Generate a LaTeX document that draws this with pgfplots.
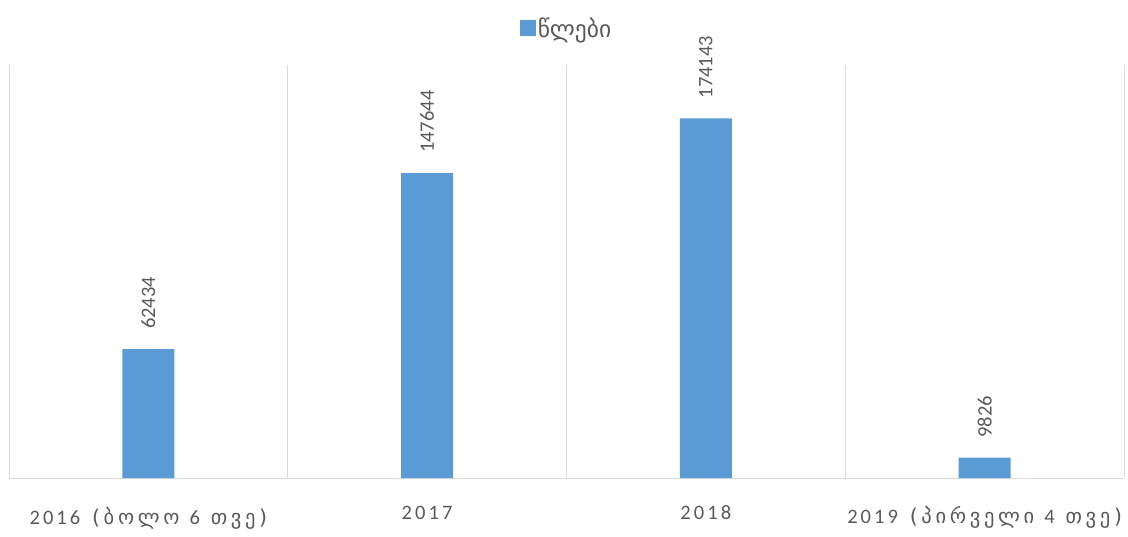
\documentclass[border=0pt]{standalone}
\usepackage{fontspec}
\setmainfont{Carlito}
\newfontfamily\geo{DejaVu Sans}
\newfontfamily\tickfont[LetterSpace=15]{Carlito}
\newfontfamily\geotick[LetterSpace=18]{DejaVu Sans}
\usepackage{pgfplots}
\pgfplotsset{compat=1.18}
\definecolor{barblue}{HTML}{5B9BD5}
\definecolor{txtgray}{HTML}{595959}
\definecolor{gridgray}{HTML}{D9D9D9}
\begin{document}
\begin{tikzpicture}
\useasboundingbox (-9pt,-58pt) rectangle (1119pt,478pt);
\begin{axis}[
  scale only axis,
  width=1115pt, height=413pt,
  xmin=-0.5, xmax=3.5,
  ymin=0, ymax=200000,
  axis x line*=bottom,
  axis y line=none,
  x axis line style={gridgray, line width=1pt, -},
  xtick={0,1,2,3},
  xticklabels={
    {\raisebox{-5pt}{\tickfont 2016\hspace{4pt} \geotick(ბოლო \tickfont 6\hspace{3pt} \geotick თვე)}},
    {\tickfont 2017},
    {\tickfont 2018},
    {\raisebox{-4pt}{\tickfont 2019\hspace{4pt} \geotick(პირველი \tickfont 4\hspace{3pt} \geotick თვე)}}},
  xticklabel style={anchor=base, yshift=-41pt, text=txtgray, font=\fontsize{20.5}{24}\selectfont},
  major tick length=0pt,
  minor xtick={-0.5,0.5,1.5,2.5,3.5},
  minor tick length=0pt,
  xminorgrids=true,
  minor grid style={gridgray, line width=1pt},
  ytick=\empty,
  ybar, bar width=52pt, bar shift=0pt,
  point meta=explicit symbolic,
  nodes near coords,
  every node near coord/.append style={rotate=90, anchor=west, inner xsep=20pt, text=txtgray, font=\fontsize{20.5}{24}\selectfont},
  legend style={at={(0.5,1)}, anchor=south, yshift=22pt, draw=none, fill=none, font=\fontsize{23.5}{26}\selectfont\geo, text=txtgray},
  legend image code/.code={\fill[barblue] (-7pt,-8pt) rectangle (9pt,8pt);},
  clip=false,
]
\addplot[fill=barblue, draw=none] coordinates {(0,62434) [62434] (1,147644) [147644] (2,174143) [174143] (3,9826) [9826]};
\addlegendentry{წლები}
\end{axis}
\end{tikzpicture}
\end{document}
